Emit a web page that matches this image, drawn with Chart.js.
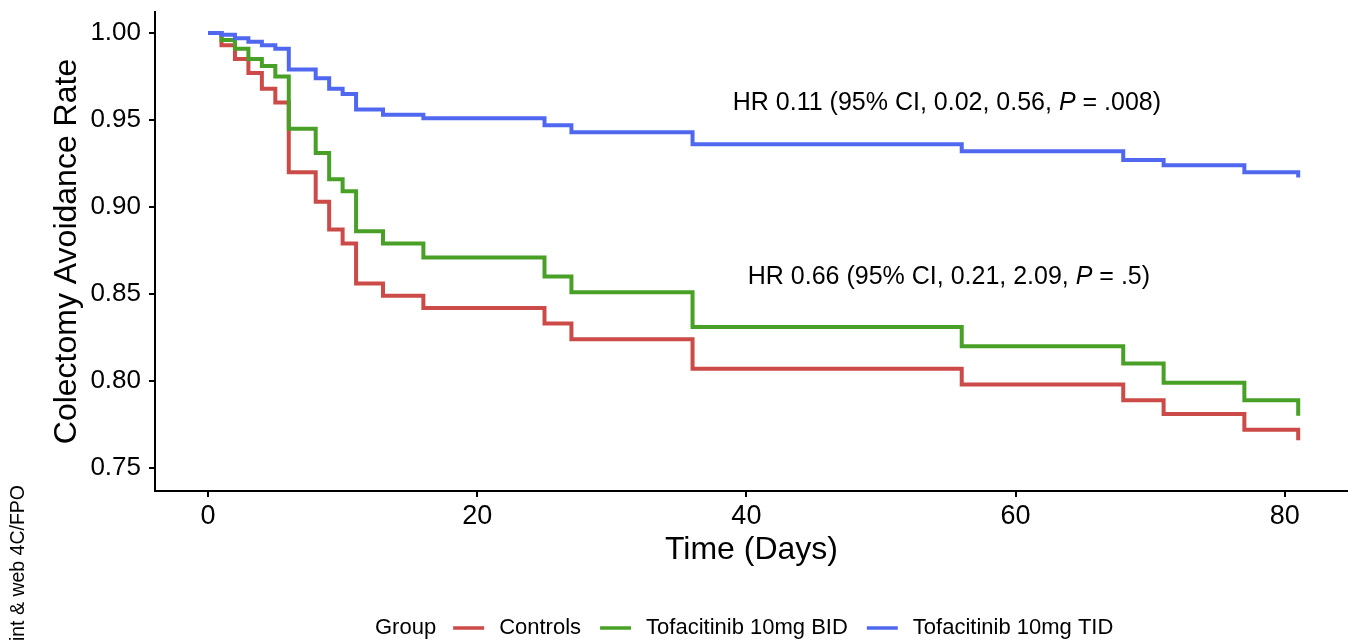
<!DOCTYPE html>
<html>
<head>
<meta charset="utf-8">
<script src="https://cdn.jsdelivr.net/npm/chart.js@4.4.1/dist/chart.umd.min.js"></script>
<style>
  html, body { margin: 0; padding: 0; background: #fff; }
  #wrap { width: 1348px; height: 640px; position: relative; }
</style>
</head>
<body>
<div id="wrap"><canvas id="c" width="1348" height="640"></canvas></div>
<script>
// ---- Data ----
const groupNames = ["Controls", "Tofacitinib 10mg BID", "Tofacitinib 10mg TID"];
const eventTimes = [0, 1, 2, 3, 4, 5, 6, 8, 9, 10, 11, 13, 16, 25, 27, 36, 56, 68, 71, 77, 81];
const controlsSurv = [1.000, 0.993, 0.985, 0.977, 0.968, 0.960, 0.920, 0.903, 0.887, 0.879, 0.856, 0.849, 0.842, 0.833, 0.824, 0.807, 0.798, 0.789, 0.781, 0.772, 0.766];
const bidSurv      = [1.000, 0.996, 0.991, 0.985, 0.981, 0.975, 0.945, 0.931, 0.916, 0.909, 0.886, 0.879, 0.871, 0.860, 0.851, 0.831, 0.820, 0.810, 0.799, 0.789, 0.780];
const tidSurv      = [1.000, 0.999, 0.997, 0.995, 0.993, 0.991, 0.979, 0.974, 0.968, 0.965, 0.956, 0.953, 0.951, 0.947, 0.943, 0.936, 0.932, 0.927, 0.924, 0.920, 0.917];
const xTicks = [0, 20, 40, 60, 80];
const yTicks = [0.75, 0.80, 0.85, 0.90, 0.95, 1.00];
const hrLabels = [
  { pre: "HR 0.11 (95% CI, 0.02, 0.56, ", ital: "P", post: " = .008)", x: 54.9, y: 0.9598 },
  { pre: "HR 0.66 (95% CI, 0.21, 2.09, ", ital: "P", post: " = .5)", x: 55.05, y: 0.8598 }
];

// ---- Styles ----
const colors = ["#cc4a47", "#48a126", "#5068ef"];
const FONT = "'Liberation Sans', Arial, Helvetica, sans-serif";

function pts(surv) { return eventTimes.map((t, i) => ({ x: t, y: surv[i] })); }

const datasets = [controlsSurv, bidSurv, tidSurv].map((s, i) => ({
  label: groupNames[i],
  data: pts(s),
  borderColor: colors[i],
  backgroundColor: colors[i],
  borderWidth: 4,
  stepped: 'before',
  pointRadius: 0,
  fill: false,
  borderCapStyle: 'butt',
  borderJoinStyle: 'miter',
  order: 2 - i
}));

const extras = {
  id: 'extras',
  afterDraw(chart) {
    const ctx = chart.ctx;
    const xs = chart.scales.x, ys = chart.scales.y;
    ctx.save();
    // HR annotations
    ctx.fillStyle = '#000';
    ctx.textBaseline = 'middle';
    hrLabels.forEach(l => {
      const nf = "25px " + FONT, itf = "italic 25px " + FONT;
      ctx.font = nf; const w1 = ctx.measureText(l.pre).width; const w3 = ctx.measureText(l.post).width;
      ctx.font = itf; const w2 = ctx.measureText(l.ital).width;
      const cx = xs.getPixelForValue(l.x), cy = ys.getPixelForValue(l.y);
      let x0 = cx - (w1 + w2 + w3) / 2;
      ctx.textAlign = 'left';
      ctx.font = nf; ctx.fillText(l.pre, x0, cy);
      ctx.font = itf; ctx.fillText(l.ital, x0 + w1, cy);
      ctx.font = nf; ctx.fillText(l.post, x0 + w1 + w2, cy);
    });
    // Legend
    const ly = 628;
    let lx = 375;
    ctx.font = "22px " + FONT;
    ctx.textAlign = 'left';
    ctx.fillText("Group", lx, ly);
    lx += ctx.measureText("Group").width + 17;
    chart.data.datasets.forEach((d, i) => {
      ctx.strokeStyle = d.borderColor;
      ctx.lineWidth = 3.5;
      ctx.beginPath(); ctx.moveTo(lx, ly); ctx.lineTo(lx + 31, ly); ctx.stroke();
      lx += 31 + 15;
      ctx.fillStyle = '#000';
      ctx.fillText(d.label, lx, ly);
      lx += ctx.measureText(d.label).width + 19;
    });
    // Side watermark text
    ctx.translate(19, 485);
    ctx.rotate(-Math.PI / 2);
    ctx.textAlign = 'right';
    ctx.textBaseline = 'middle';
    ctx.font = "19.5px " + FONT;
    ctx.fillStyle = '#000';
    ctx.fillText("Print & web 4C/FPO", 0, 0);
    ctx.restore();
  }
};

new Chart(document.getElementById('c'), {
  type: 'line',
  data: { datasets },
  options: {
    responsive: false,
    animation: false,
    devicePixelRatio: 1,
    layout: { padding: { top: 12, right: 0, bottom: 0, left: 0 } },
    plugins: { legend: { display: false }, tooltip: { enabled: false } },
    scales: {
      x: {
        type: 'linear',
        min: -3.94,
        max: 84.7,
        afterBuildTicks: s => { s.ticks = xTicks.map(v => ({ value: v })); },
        afterFit: s => { s.height = 149; s.paddingLeft = 0; s.paddingRight = 0; },
        grid: { display: true, drawOnChartArea: false, drawTicks: true, tickLength: 6, color: '#000', lineWidth: 2 },
        border: { display: true, color: '#000', width: 2 },
        ticks: { color: '#000', font: { family: FONT, size: 27 }, padding: 3, maxRotation: 0, callback: v => String(v) },
        title: { display: true, text: 'Time (Days)', color: '#000', font: { family: FONT, size: 32 }, padding: { top: 0, bottom: 71 } }
      },
      y: {
        type: 'linear',
        min: 0.73678,
        max: 1.01207,
        afterBuildTicks: s => { s.ticks = yTicks.map(v => ({ value: v })); },
        afterFit: s => { s.width = 155; s.paddingTop = 0; s.paddingBottom = 0; },
        grid: { display: true, drawOnChartArea: false, drawTicks: true, tickLength: 6, color: '#000', lineWidth: 2 },
        border: { display: true, color: '#000', width: 2 },
        ticks: { color: '#000', font: { family: FONT, size: 26 }, padding: 8, callback: v => Number(v).toFixed(2) },
        title: { display: true, text: 'Colectomy Avoidance Rate', color: '#000', font: { family: FONT, size: 32 }, padding: { top: 48, bottom: 0 } }
      }
    }
  },
  plugins: [extras]
});
</script>
</body>
</html>
